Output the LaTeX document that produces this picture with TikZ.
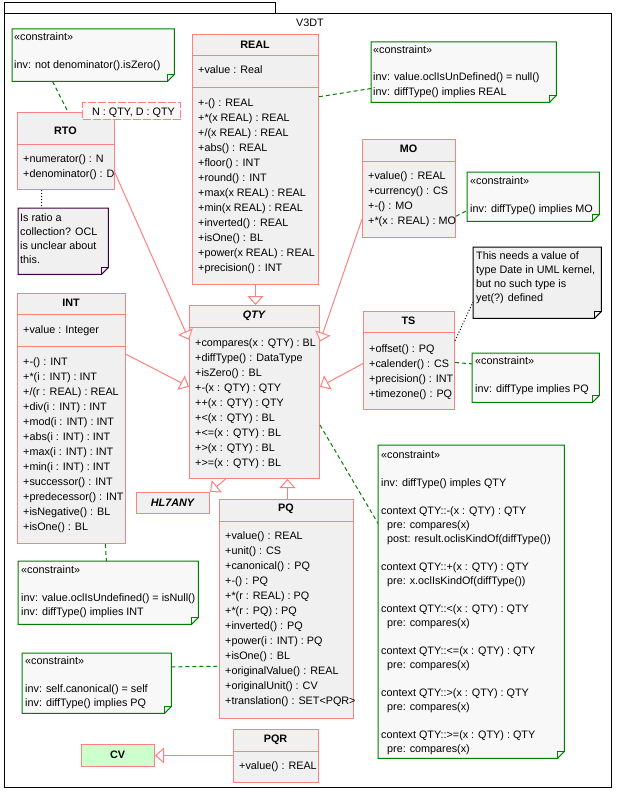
\documentclass[tikz,border=0pt]{standalone}
\usepackage{fontspec}
\setmainfont{Liberation Sans}
\usetikzlibrary{arrows.meta,calc}
\definecolor{clsborder}{RGB}{255,128,128}
\definecolor{clsfill}{RGB}{240,240,240}
\definecolor{cgreen}{RGB}{0,128,0}
\definecolor{cfill}{RGB}{248,248,248}
\definecolor{notepurple}{RGB}{64,0,64}
\definecolor{cvfill}{RGB}{204,255,204}
\tikzset{
 txt/.style={inner sep=0pt, font=\fontsize{10.8}{14}\selectfont, anchor=base west},
 plain/.style={inner sep=0pt, font=\fontsize{10.8}{14}\selectfont},
 nametxt/.style={inner sep=0pt, font=\fontsize{10.8}{14}\selectfont\bfseries},
 inametxt/.style={inner sep=0pt, font=\fontsize{10.8}{14}\selectfont\bfseries\itshape},
 cls/.style={draw=clsborder, fill=clsfill, line width=1pt, inner sep=0pt, anchor=north west, rectangle},
 sepline/.style={draw=clsborder, line width=1pt},
 frame/.style={draw=black, line width=1pt},
 gen/.style={draw=clsborder, line width=1pt, -{Triangle[length=9pt,width=16pt,fill=white]}},
 cdash/.style={draw=cgreen, line width=1pt, dash pattern=on 4pt off 3pt},
 ndot/.style={draw=black, line width=1pt, dash pattern=on 1pt off 2pt},
 notebox/.style={inner sep=0pt, anchor=north west, rectangle, draw=none},
}
\newcommand\tlines[5]{\foreach \t [count=\i] in {#5} {\node[txt] (#1-\i) at (#2,{#3+(\i-1)*#4}) {\t};}}
\newcommand\drawnote[3]{%
 \fill[#3] (#1.north west) -- (#1.north east) -- ([yshift=7pt]#1.south east) -- ([xshift=-7pt]#1.south east) -- (#1.south west) -- cycle;
 \draw[#2, line width=1pt] (#1.north west) -- (#1.north east) -- ([yshift=7pt]#1.south east) -- ([xshift=-7pt]#1.south east) -- (#1.south west) -- cycle;
 \draw[#2, line width=1pt] ([yshift=7pt]#1.south east) -- ([xshift=-7pt,yshift=7pt]#1.south east) -- ([xshift=-7pt]#1.south east);
}
\begin{document}
\begin{tikzpicture}[x=1pt,y=-1pt]
\useasboundingbox (0,0) rectangle (619,792);
\fill[white] (0,0) rectangle (619,792);
% package frame
\draw[frame] (4,3) rectangle (275,14);
\draw[frame] (4,14) rectangle (611,787);
\node[plain] (pkgname) at (310,23) {V3DT};

% ---- classes ----
\node[cls, minimum width=126pt, minimum height=250pt] (REAL) at (192,34) {};
\draw[sepline] (192,56) -- (318,56);
\draw[sepline] (192,87) -- (318,87);
\node[nametxt] (REAL-n) at (255,45) {REAL};
\tlines{REALa}{198}{74}{15}{+value : Real}
\tlines{REALm}{198}{106}{15}{+-() : REAL,+*(x REAL) : REAL,+/(x REAL) : REAL,+abs() : REAL,+floor() : INT,+round() : INT,+max(x REAL) : REAL,+min(x REAL) : REAL,+inverted() : REAL,+isOne() : BL,+power(x REAL) : REAL,+precision() : INT}

\node[cls, minimum width=97pt, minimum height=77pt] (RTO) at (17,112) {};
\draw[sepline] (17,144) -- (114,144);
\node[nametxt] (RTO-n) at (65.5,131) {RTO};
\tlines{RTOm}{23}{162}{15}{+numerator() : N,+denominator() : D}
\node[notebox, draw=clsborder, dash pattern=on 8pt off 2pt, fill=cfill, line width=1pt, minimum width=98pt, minimum height=17pt] (RTOt) at (82,102) {};
\node[txt] (RTOt-t) at (92,115) {N : QTY, D : QTY};

\node[cls, minimum width=93pt, minimum height=98pt] (MO) at (362,139) {};
\draw[sepline] (362,161) -- (455,161);
\node[nametxt] (MO-n) at (408.5,149) {MO};
\tlines{MOm}{368}{179}{15}{+value() : REAL,+currency() : CS,+-() : MO,+*(x : REAL) : MO}

\node[cls, minimum width=91pt, minimum height=98pt] (TS) at (363,311) {};
\draw[sepline] (363,332) -- (454,332);
\node[nametxt] (TS-n) at (408.5,321) {TS};
\tlines{TSm}{369}{352}{15}{+offset() : PQ,+calender() : CS,+precision() : INT,+timezone() : PQ}

\node[cls, minimum width=108pt, minimum height=250pt] (INT) at (17,293) {};
\draw[sepline] (17,314) -- (125,314);
\draw[sepline] (17,346) -- (125,346);
\node[nametxt] (INT-n) at (71,303) {INT};
\tlines{INTa}{23}{333}{15}{+value : Integer}
\tlines{INTm}{23}{365}{15}{+-() : INT,+*(i : INT) : INT,+/(r : REAL) : REAL,+div(i : INT) : INT,+mod(i : INT) : INT,+abs(i : INT) : INT,+max(i : INT) : INT,+min(i : INT) : INT,+successor() : INT,+predecessor() : INT,+isNegative() : BL,+isOne() : BL}

\node[cls, minimum width=130pt, minimum height=173pt] (QTY) at (189,305) {};
\draw[sepline] (189,327) -- (319,327);
\node[inametxt] (QTY-n) at (254,316) {QTY};
\tlines{QTYm}{195}{346}{15}{+compares(x : QTY) : BL,+diffType() : DataType,+isZero() : BL,+-(x : QTY) : QTY,++(x : QTY) : QTY,+<(x : QTY) : BL,+<=(x : QTY) : BL,+>(x : QTY) : BL,+>=(x : QTY) : BL}

\node[cls, minimum width=73pt, minimum height=21pt] (HL7ANY) at (136,492) {};
\node[inametxt] (HL7ANY-n) at (172.5,502.5) {HL7ANY};

\node[cls, minimum width=134pt, minimum height=219pt] (PQ) at (219,499) {};
\draw[sepline] (219,521) -- (353,521);
\node[nametxt] (PQ-n) at (286,509) {PQ};
\tlines{PQm}{225}{539}{15}{+value() : REAL,+unit() : CS,+canonical() : PQ,+-() : PQ,+*(r : REAL) : PQ,+*(r : PQ) : PQ,+inverted() : PQ,+power(i : INT) : PQ,+isOne() : BL,+originalValue() : REAL,+originalUnit() : CV,+translation() : SET<PQR>}

\node[cls, minimum width=85pt, minimum height=53pt] (PQR) at (233,729) {};
\draw[sepline] (233,751) -- (318,751);
\node[nametxt] (PQR-n) at (275.5,739.5) {PQR};
\tlines{PQRm}{239}{769}{15}{+value() : REAL}

\node[cls, fill=cvfill, minimum width=73pt, minimum height=22pt] (CV) at (81,744) {};
\node[nametxt] (CV-n) at (117.5,755) {CV};

% ---- notes / constraints ----
\node[notebox, minimum width=162pt, minimum height=52pt] (RTOc) at (12,29) {};
\drawnote{RTOc}{cgreen}{cfill}
\tlines{RTOct}{14}{41}{28}{«constraint»,inv: not denominator().isZero()}

\node[notebox, minimum width=185pt, minimum height=60pt] (REALc) at (371,42) {};
\drawnote{REALc}{cgreen}{cfill}
\tlines{REALct}{373}{53}{14}{«constraint»,{},inv: value.oclIsUnDefined() = null(),inv: diffType() implies REAL}

\node[notebox, minimum width=132pt, minimum height=49pt] (MOc) at (467,172) {};
\drawnote{MOc}{cgreen}{cfill}
\tlines{MOct}{470}{184}{28}{«constraint»,inv: diffType() implies MO}

\node[notebox, minimum width=128pt, minimum height=71pt] (TSn) at (473,247) {};
\drawnote{TSn}{black}{clsfill}
\tlines{TSnt}{476}{259}{14}{This needs a value of,type Date in UML kernel{,},but no such type is,yet(?) defined}

\node[notebox, minimum width=127pt, minimum height=49pt] (TSc) at (472,353) {};
\drawnote{TSc}{cgreen}{cfill}
\tlines{TSct}{475}{364}{28}{«constraint»,inv: diffType implies PQ}

\node[notebox, minimum width=90pt, minimum height=66pt] (RTOn) at (18,208) {};
\drawnote{RTOn}{notepurple}{clsfill}
\tlines{RTOnt}{20}{221}{14}{Is ratio a,collection? OCL,is unclear about,this.}

\node[notebox, minimum width=180pt, minimum height=63pt] (INTc) at (18,561) {};
\drawnote{INTc}{cgreen}{cfill}
\tlines{INTct}{21}{573}{14}{«constraint»,{},inv: value.oclIsUndefined() = isNull(),inv: diffType() implies INT}

\node[notebox, minimum width=149pt, minimum height=60pt] (PQc) at (22,653) {};
\drawnote{PQc}{cgreen}{cfill}
\tlines{PQct}{25}{664}{14}{«constraint»,{},inv: self.canonical() = self,inv: diffType() implies PQ}

\node[notebox, minimum width=186pt, minimum height=313pt] (QTYc) at (378,445) {};
\drawnote{QTYc}{cgreen}{cfill}
\tlines{QTYct}{381}{458}{14}{«constraint»,{},inv: diffType() imples QTY,{},context QTY::-(x : QTY) : QTY,\hspace*{6pt}pre: compares(x),\hspace*{6pt}post: result.oclisKindOf(diffType()),{},context QTY::+(x : QTY) : QTY,\hspace*{6pt}pre: x.oclIsKindOf(diffType()),{},context QTY::<(x : QTY) : QTY,\hspace*{6pt}pre: compares(x),{},context QTY::<=(x : QTY) : QTY,\hspace*{6pt}pre: compares(x),{},context QTY::>(x : QTY) : QTY,\hspace*{6pt}pre: compares(x),{},context QTY::>=(x : QTY) : QTY,\hspace*{6pt}pre: compares(x)}

% ---- generalizations ----
\draw[gen] (REAL.south) -- (REAL.south |- QTY.north);
\draw[gen] ($(RTO.north east)!0.78!(RTO.south east)$) -- ($(QTY.north west)!0.2!(QTY.south west)$);
\draw[gen] ($(INT.north east)!0.244!(INT.south east)$) -- ($(QTY.north west)!0.47!(QTY.south west)$);
\draw[gen] ($(MO.north west)!0.81!(MO.south west)$) -- ($(QTY.north east)!0.21!(QTY.south east)$);
\draw[gen] ($(TS.north west)!0.53!(TS.south west)$) -- ($(QTY.north east)!0.47!(QTY.south east)$);
\coordinate (pqtop) at ($(PQ.north west)!0.507!(PQ.north east)$);
\draw[gen] (pqtop) -- (pqtop |- QTY.south);
\draw[gen] ($(QTY.south west)!0.28!(QTY.south east)$) -- (HL7ANY.north east);
\draw[gen] (PQR.west |- CV.east) -- (CV.east);

% ---- note links ----
\draw[cdash] ($(RTOc.south west)!0.25!(RTOc.south east)$) -- ($(RTO.north west)!0.52!(RTO.north east)$);
\draw[cdash] ($(REAL.north east)!0.25!(REAL.south east)$) -- ($(REALc.north west)!0.77!(REALc.south west)$);
\draw[cdash] ($(MO.north east)!0.78!(MO.south east)$) -- ($(MOc.north west)!0.78!(MOc.south west)$);
\draw[cdash] ($(TS.north east)!0.52!(TS.south east)$) -- ($(TSc.north west)!0.22!(TSc.south west)$);
\draw[ndot] ($(TS.north east)!0.30!(TS.south east)$) -- ($(TSn.north west)!0.77!(TSn.south west)$);
\draw[ndot] ($(RTO.south west)!0.25!(RTO.south east)$) -- ($(RTOn.north west)!0.26!(RTOn.north east)$);
\draw[cdash] ($(INT.south west)!0.81!(INT.south east)$) -- ($(INTc.north west)!0.49!(INTc.north east)$);
\draw[cdash] ($(PQc.north east)!0.23!(PQc.south east)$) -- ($(PQ.north west)!0.76!(PQ.south west)$);
\draw[cdash] ($(QTY.north east)!0.69!(QTY.south east)$) -- ($(QTYc.north west)!0.25!(QTYc.south west)$);
\end{tikzpicture}
\end{document}
